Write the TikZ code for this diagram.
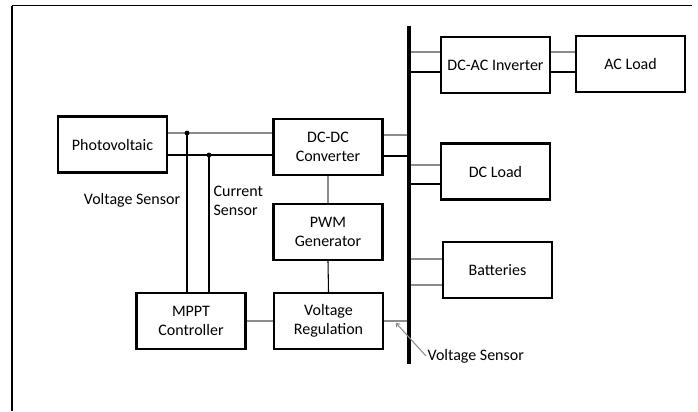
\documentclass[tikz,border=0pt]{standalone}
\usepackage{fontspec}
\setmainfont{Carlito}
\usepackage{xcolor}
\usepackage{tikz}
\usetikzlibrary{arrows.meta}
\definecolor{wiregray}{HTML}{8C8C8C}
\tikzset{
  blk/.style={draw,line width=1.8pt,minimum width=82pt,minimum height=42pt,align=center,inner sep=1pt},
  wire/.style={line width=0.8pt},
  gwire/.style={wire,wiregray},
  lbl/.style={inner sep=1pt,align=left}
}

\begin{document}
\begin{tikzpicture}[x=0.75pt,y=-0.75pt,font=\fontsize{12pt}{14.3pt}\selectfont]
  \useasboundingbox (0,0) rectangle (698,411);
  \draw[line width=1.2pt] (12,411) -- (12,5.5);
  \draw[line width=0.9pt] (12,5.5) -- (692,5.5);
  \node[blk] (pv) at (112.5,144.5) {Photovoltaic};
  \node[blk] (dcdc) at (328,147) {DC-DC\\Converter};
  \node[blk] (pwm) at (328,232) {PWM\\Generator};
  \node[blk] (mppt) at (191,321) {MPPT\\Controller};
  \node[blk] (vreg) at (328.5,321) {Voltage\\Regulation};
  \node[blk] (dcac) at (495.5,65) {DC-AC Inverter};
  \node[blk] (acl) at (630.5,64) {AC Load};
  \node[blk] (dcl) at (495.5,171.5) {DC Load};
  \node[blk] (bat) at (497.5,270) {Batteries};
  \node[fill=black,inner sep=0,minimum width=2.6pt,minimum height=253.5pt] (bus) at (409,195) {};
  \coordinate (vtap) at (187,133);
  \coordinate (itap) at (209,155);
  \coordinate (vsense) at (396,323);
  \draw[gwire] (pv.east |- 0,133) -- (dcdc.west |- 0,133);
  \draw[wire] (pv.east |- 0,155) -- (dcdc.west |- 0,155);
  \fill (vtap) circle[radius=1.8pt];
  \fill (itap) circle[radius=1.8pt];
  \draw[wire] (vtap) -- (vtap |- mppt.north);
  \draw[wire] (itap) -- (itap |- mppt.north);
  \draw[gwire] (dcdc.east |- 0,135) -- (bus.west |- 0,135);
  \draw[wire] (dcdc.east |- 0,156) -- (bus.west |- 0,156);
  \draw[gwire] (dcdc.south) -- (pwm.north);
  \draw[wire] (pwm.south) -- (vreg.north);
  \draw[gwire] (mppt.east) -- (vreg.west);
  \draw[gwire] (vreg.east) -- (vreg.east -| bus.west);
  \draw[gwire] (bus.east |- 0,52) -- (dcac.west |- 0,52);
  \draw[wire] (bus.east |- 0,72) -- (dcac.west |- 0,72);
  \draw[gwire] (dcac.east |- 0,52) -- (acl.west |- 0,52);
  \draw[wire] (dcac.east |- 0,72) -- (acl.west |- 0,72);
  \draw[gwire] (bus.east |- 0,165) -- (dcl.west |- 0,165);
  \draw[wire] (bus.east |- 0,184) -- (dcl.west |- 0,184);
  \draw[gwire] (bus.east |- 0,259) -- (bat.west |- 0,259);
  \draw[gwire] (bus.east |- 0,285) -- (bat.west |- 0,285);
  \node[lbl] (vslbl) at (132,200) {Voltage Sensor};
  \node[lbl,anchor=west] (cslbl) at (212,201) {Current\\Sensor};
  \node[lbl,anchor=west] (bvslbl) at (426,356) {Voltage Sensor};
  \draw[gwire,-{To[length=3pt,width=4pt]}] (bvslbl.west) -- (vsense);
\end{tikzpicture}
\end{document}
